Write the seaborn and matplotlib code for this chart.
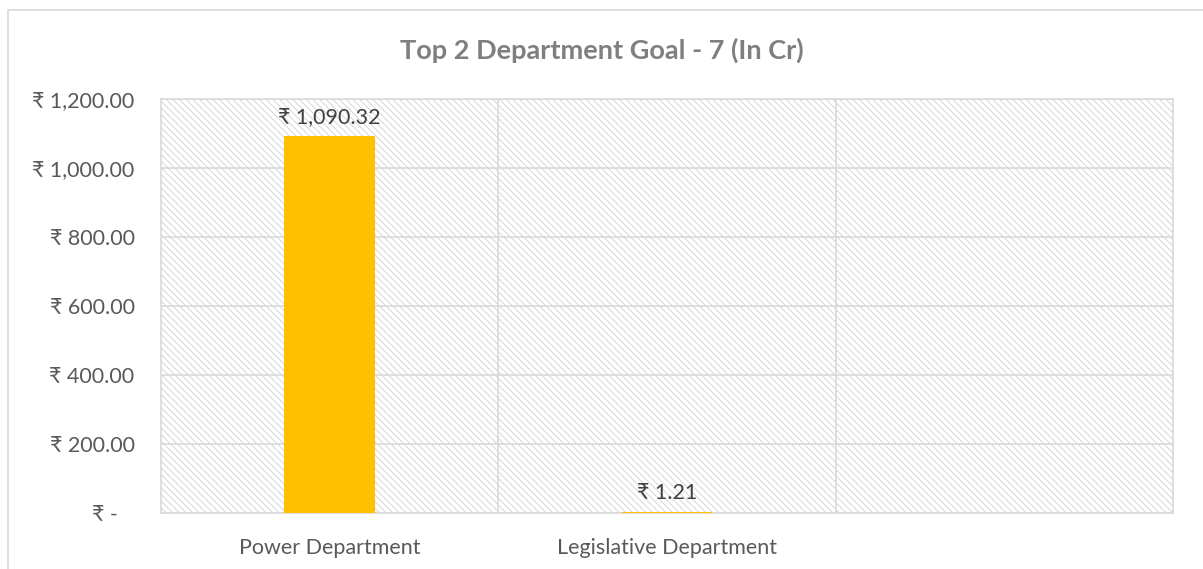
import matplotlib
matplotlib.use("Agg")
import matplotlib.pyplot as plt
import seaborn as sns
import pandas as pd
from matplotlib.patches import Rectangle
from matplotlib.ticker import FuncFormatter, FixedLocator

departments = ["Power Department", "Legislative Department"]
values = [1090.32, 1.21]
data_labels = ["₹ 1,090.32", "₹ 1.21"]
title = "Top 2 Department Goal - 7 (In Cr)"
yticks = [0, 200, 400, 600, 800, 1000, 1200]

sns.set_theme(style="white")
plt.rcParams['font.family'] = ['Lato', 'DejaVu Sans']
plt.rcParams['hatch.linewidth'] = 0.6
plt.rcParams['hatch.color'] = '#d0d0d0'

fig = plt.figure(figsize=(12.03, 5.69), dpi=100)
ax = fig.add_axes([161/1203, 1 - 513/569, (1173-161)/1203, (513-99)/569])

# outer chart border (left & top)
fig.add_artist(plt.Line2D([8/1203, 8/1203], [0, 1 - 10/569], transform=fig.transFigure,
                          color='#d9d9d9', lw=1.2))
fig.add_artist(plt.Line2D([8/1203, 1], [1 - 10/569, 1 - 10/569], transform=fig.transFigure,
                          color='#d9d9d9', lw=1.2))

# hatched plot area
bg = Rectangle((0, 0), 1, 1, transform=ax.transAxes, facecolor='white',
               edgecolor='#d0d0d0', hatch='\\\\\\\\\\', lw=0, zorder=0)
ax.add_patch(bg)

df = pd.DataFrame({"dept": departments, "value": values})
sns.barplot(data=df, x="dept", y="value", color="#FFC000", width=0.265,
            saturation=1, ax=ax, zorder=3, edgecolor="#FFC000", linewidth=1.5)

ax.set_xlim(-0.5, 2.5)
ax.set_ylim(0, 1200)
ax.yaxis.set_major_locator(FixedLocator(yticks))
ax.yaxis.set_major_formatter(FuncFormatter(lambda v, p: "₹ -   " if v == 0 else f"₹ {v:,.2f}"))
ax.xaxis.set_minor_locator(FixedLocator([0.5, 1.5]))
ax.grid(True, axis='y', which='major', color='#d9d9d9', lw=1.2, zorder=1)
ax.grid(True, axis='x', which='minor', color='#d9d9d9', lw=1.2, zorder=1)
ax.grid(False, axis='x', which='major')
ax.set_axisbelow(True)

for s in ax.spines.values():
    s.set_color('#d9d9d9')
    s.set_linewidth(1.2)

ax.tick_params(axis='both', which='both', length=0, labelsize=15.5, colors='#595959')
ax.tick_params(axis='y', pad=19)
ax.tick_params(axis='x', pad=18)
ax.set_xlabel("")
ax.set_ylabel("")

for i, (v, lab) in enumerate(zip(values, data_labels)):
    ax.annotate(lab, (i, v), xytext=(0, 7), textcoords='offset points',
                ha='center', va='bottom', fontsize=15.5, color='#404040', zorder=5)

fig.text(0.5, 1 - 50/569, title, ha='center', va='center', fontsize=19.5,
         fontweight='bold', color='#7f7f7f')

fig.savefig("out.png", dpi=100, facecolor='white')
